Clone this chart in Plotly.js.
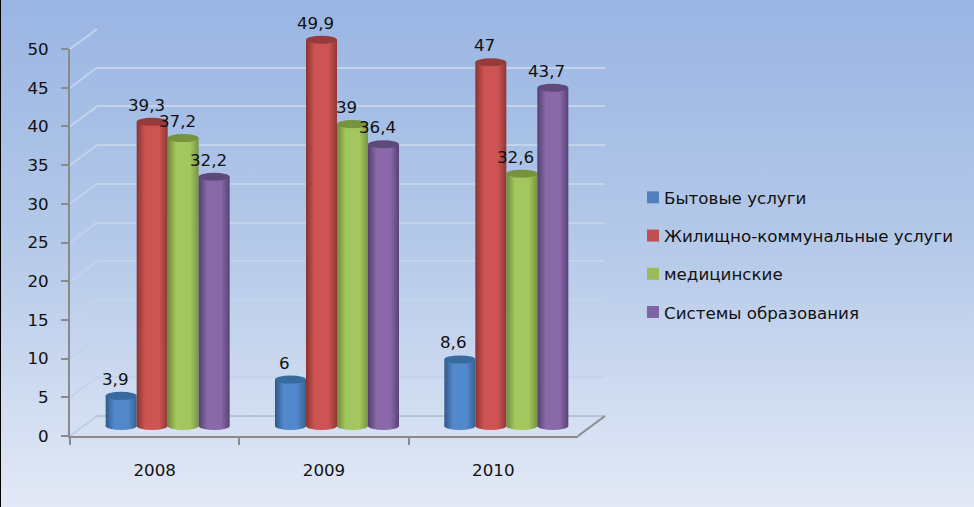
<!DOCTYPE html>
<html><head><meta charset="utf-8">
<script src="https://cdn.plot.ly/plotly-3.0.1.min.js"></script>
<style>
html,body{margin:0;padding:0;width:974px;height:507px;overflow:hidden}
#chart{position:absolute;left:0;top:0;width:974px;height:507px;background:linear-gradient(180deg,#99b5e3 0%,#b6cae9 50%,#e3e9f6 100%)}
#edge{position:absolute;left:0;top:0;width:1px;height:507px;background:#000}
</style></head><body>
<div id="chart"></div><div id="edge"></div>
<script>
const years = [2008, 2009, 2010];
const yearLabels = ['2008', '2009', '2010'];
const seriesNames = ['Бытовые услуги', 'Жилищно-коммунальные услуги', 'медицинские', 'Системы образования'];
const bytovye = [3.9, 6, 8.6];
const zhilishchnye = [39.3, 49.9, 47];
const medicinskie = [37.2, 39, 32.6];
const obrazovanie = [32.2, 36.4, 43.7];
const valueLabels = [['3,9','6','8,6'],['39,3','49,9','47'],['37,2','39','32,6'],['32,2','36,4','43,7']];
const yTicks = [0,5,10,15,20,25,30,35,40,45,50];
const colors = ['#4f81bd','#c0504d','#9bbb59','#8064a2'];
const topColors = ['#376a9e','#953b39','#77933c','#5f497a'];
const gradStops = [['#2f5a88','#5289cc','#36628f'],['#8a3331','#cd5452','#8f3735'],['#6f8a3c','#a3c75e','#789444'],['#54406f','#8a69aa','#584274']];
const allValues = [bytovye, zhilishchnye, medicinskie, obrazovanie];

const W = 974, H = 507;
const px = v => v / W, py = v => 1 - v / H;
const frontX = [70, 578], frontY = [436, 49];
const depthX = 27, depthY = 20;
const barShiftX = 13, barShiftY = 10;
const barPx = 31, catPx = (frontX[1] - frontX[0]) / 3;
const unit = barPx / catPx;
const ellH = 0.52;
const pxPerUnit = (frontY[0] - frontY[1]) / 50;
const barRange = [-2, 53];
const gridColor = '#c2d3ec';

const axisFont = {family:'"DejaVu Sans", sans-serif', size:16.7, color:'#111'};

const traces = [
  {type:'scatter', mode:'none', x:yearLabels, y:yearLabels.map(()=>0), xaxis:'x', yaxis:'y', showlegend:false, hoverinfo:'skip'},
  {type:'scatter', mode:'none', x:[0,1], y:[0,50], xaxis:'x2', yaxis:'y2', showlegend:false, hoverinfo:'skip'}
];
seriesNames.forEach((n,i)=>{
  traces.push({type:'bar', name:n, x:years, y:allValues[i], xaxis:'x3', yaxis:'y3',
    marker:{color:colors[i], line:{width:0}}, legendgroup:'g'+i, hoverinfo:'y+name'});
});

const shapes = [], annotations = [];
yTicks.forEach(t=>{
  const f = frontY[0] + (frontY[1]-frontY[0]) * t / 50;
  shapes.push({type:'line', xref:'paper', yref:'paper', layer:'below',
    x0:px(frontX[0]), y0:py(f), x1:px(frontX[0]+depthX), y1:py(f-depthY), line:{color:t===0?'#bccde6':gridColor, width:2}});
});
shapes.push({type:'line', xref:'paper', yref:'paper', layer:'below',
  x0:px(frontX[0]+depthX), y0:py(frontY[0]-depthY), x1:px(frontX[1]+depthX), y1:py(frontY[0]-depthY), line:{color:'#b4c3d8', width:2}});
shapes.push({type:'line', xref:'paper', yref:'paper', layer:'below',
  x0:px(frontX[1]), y0:py(frontY[0]), x1:px(frontX[1]+depthX), y1:py(frontY[0]-depthY), line:{color:'#8a8a8a', width:2}});

seriesNames.forEach((n,i)=>{
  const off = (i-1.5)*unit;
  years.forEach((yr,j)=>{
    const v = allValues[i][j], c = yr+off;
    shapes.push({type:'circle', xref:'x3', yref:'y3', layer:'below',
      x0:c-unit/2, x1:c+unit/2, y0:-ellH, y1:ellH, fillcolor:colors[i], line:{width:0}});
    shapes.push({type:'circle', xref:'x3', yref:'y3', layer:'above',
      x0:c-unit/2, x1:c+unit/2, y0:v-ellH, y1:v+ellH, fillcolor:topColors[i], line:{width:0}});
    annotations.push({xref:'x3', yref:'y3', x:c, y:v, text:valueLabels[i][j], showarrow:false,
      xanchor:'center', yanchor:'middle', xshift:-6, yshift:17, font:axisFont});
  });
});

const layout = {
  width:W, height:H, margin:{l:0,r:0,t:0,b:0}, paper_bgcolor:'rgba(0,0,0,0)', plot_bgcolor:'rgba(0,0,0,0)',
  barmode:'group', bargap:1-4*unit, bargroupgap:0, font:axisFont, showlegend:true,
  xaxis:{domain:[px(frontX[0]),px(frontX[1])], anchor:'y', type:'category', categoryorder:'array', categoryarray:yearLabels,
    range:[-0.5,2.5], tickson:'boundaries', ticks:'outside', ticklen:7, tickwidth:2, tickcolor:'#8a8a8a', showline:true, linecolor:'#8a8a8a', linewidth:2,
    showgrid:false, zeroline:false, tickfont:axisFont, fixedrange:true, ticklabelstandoff:18},
  yaxis:{domain:[py(frontY[0]),py(frontY[1])], anchor:'x', range:[0,50], tickvals:yTicks, ticktext:yTicks.map(String),
    ticks:'outside', ticklen:7, tickwidth:2, tickcolor:'#8a8a8a', showline:true, linecolor:'#8a8a8a', linewidth:2,
    showgrid:false, zeroline:false, tickfont:axisFont, fixedrange:true, ticklabelstandoff:9},
  xaxis2:{domain:[px(frontX[0]+depthX),px(frontX[1]+depthX)], anchor:'y2', range:[0,1], visible:false, fixedrange:true},
  yaxis2:{domain:[py(frontY[0]-depthY),py(frontY[1]-depthY)], anchor:'x2', range:[0,50], tickvals:yTicks, showticklabels:false, ticks:'',
    showgrid:true, gridcolor:gridColor, gridwidth:2, zeroline:false, showline:false, fixedrange:true},
  xaxis3:{domain:[px(frontX[0]+barShiftX),px(frontX[1]+barShiftX)], anchor:'y3', type:'linear', range:[years[0]-0.5,years[2]+0.5], visible:false, fixedrange:true},
  yaxis3:{domain:[py(frontY[0]-barShiftY-barRange[0]*pxPerUnit),py(frontY[0]-barShiftY-barRange[1]*pxPerUnit)], anchor:'x3', range:barRange, visible:false, fixedrange:true},
  legend:{x:px(633), xanchor:'left', y:py(180), yanchor:'top', font:axisFont, bgcolor:'rgba(0,0,0,0)', traceorder:'grouped', tracegroupgap:13.5, itemwidth:30},
  shapes, annotations
};

const gd = document.getElementById('chart');
Plotly.newPlot(gd, traces, layout, {displayModeBar:false}).then(()=>{
  const defs = gd.querySelector('svg.main-svg defs');
  const NS = 'http://www.w3.org/2000/svg';
  gradStops.forEach((st,i)=>{
    const g = document.createElementNS(NS,'linearGradient');
    g.setAttribute('id','cyl'+i); g.setAttribute('x1','0'); g.setAttribute('x2','1'); g.setAttribute('y1','0'); g.setAttribute('y2','0');
    [[0,st[0]],[0.28,st[1]],[0.72,st[1]],[1,st[2]]].forEach(([o,c])=>{
      const s = document.createElementNS(NS,'stop'); s.setAttribute('offset',o); s.setAttribute('stop-color',c); g.appendChild(s);
    });
    defs.appendChild(g);
  });
  gd.querySelectorAll('.barlayer .trace.bars').forEach((t,i)=>{
    t.querySelectorAll('path').forEach(p=>{p.style.fill='url(#cyl'+i+')';});
  });
  const toRgb = h => 'rgb('+parseInt(h.slice(1,3),16)+', '+parseInt(h.slice(3,5),16)+', '+parseInt(h.slice(5,7),16)+')';
  gd.querySelectorAll('.shapelayer path').forEach(p=>{
    const i = colors.map(toRgb).indexOf(p.style.fill);
    if(i>=0) p.style.fill='url(#cyl'+i+')';
  });
  gd.querySelectorAll('.legendtext').forEach(t=>{
    t.setAttribute('x', +t.getAttribute('x')-9);
  });
});
</script></body></html>
